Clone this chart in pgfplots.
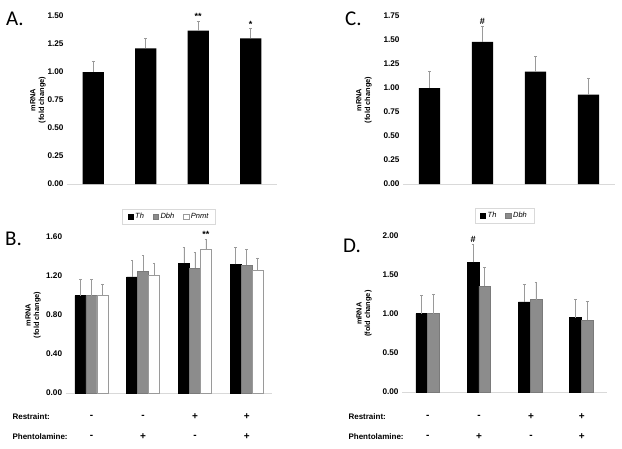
\documentclass[border=0pt]{standalone}
\usepackage{pgfplots}
\pgfplotsset{compat=1.18}
\usepackage{fontspec}
\setmainfont{Liberation Sans}
\newfontfamily\letterfont{Carlito}
\definecolor{bargray}{HTML}{8C8C8C}
\definecolor{baredge}{HTML}{7A7A7A}
\definecolor{errgray}{HTML}{9A9A9A}
\definecolor{axgray}{HTML}{D9D9D9}
\pgfplotsset{
  panel/.style={
    scale only axis, axis lines=left, axis line style={-},
    x axis line style={draw=axgray, line width=0.6pt},
    y axis line style={draw=none},
    xtick=\empty, major tick length=0pt,
    ymin=0, xmin=-0.5, xmax=3.5, clip=false,
    ybar, bar shift=0pt,
    yticklabel style={font=\fontsize{8.2}{9}\selectfont\bfseries,
      /pgf/number format/fixed, /pgf/number format/zerofill,
      /pgf/number format/precision=2, /pgf/number format/assume math mode=true},
    ylabel={mRNA\\(fold change)},
    ylabel style={font=\fontsize{7.4}{8.6}\selectfont\bfseries, align=center, anchor=center},
  },
  eb/.style={error bars/.cd, y dir=plus, y explicit,
    error bar style={color=errgray, line width=0.6pt},
    error mark options={rotate=90, mark size=1.3pt, color=errgray, line width=0.6pt}},
  sqlegend/.style={legend image code/.code={\draw[##1, line width=0.4pt] (0pt,-2.6pt) rectangle (5.2pt,2.6pt);}},
}
\tikzset{
  sig/.style={font=\fontsize{9}{9}\selectfont\bfseries, anchor=south, inner sep=1pt},
  pm/.style={font=\fontsize{10}{10}\selectfont\bfseries, anchor=center},
  rowlab/.style={font=\fontsize{8}{8}\selectfont\bfseries, anchor=west},
  letter/.style={anchor=base west, inner sep=0pt, font=\letterfont\fontsize{21}{21}\selectfont},
}
\begin{document}
\begin{tikzpicture}
\path[use as bounding box] (0pt,0pt) rectangle (622pt,-448pt);

% ---------- Panel A ----------
\begin{axis}[panel, at={(67pt,-184pt)}, anchor=south west,
  width=210pt, height=168pt, ymax=1.5, ytick={0,0.25,0.5,0.75,1,1.25,1.5},
  ylabel style={at={(axis description cs:-0.138,0.5)}}]
\addplot[bar width=21.4pt, fill=black, draw=none, eb]
  coordinates {(0,1.00) +- (0,0.10) (1,1.21) +- (0,0.09) (2,1.37) +- (0,0.085) (3,1.30) +- (0,0.09)};
\node[sig] at (axis cs:2,1.455) {**};
\node[sig] at (axis cs:3,1.39) {*};
\end{axis}

% ---------- Panel C ----------
\begin{axis}[panel, at={(403pt,-184pt)}, anchor=south west,
  width=212pt, height=168pt, ymax=1.75, ytick={0,0.25,0.5,0.75,1,1.25,1.5,1.75},
  ylabel style={at={(axis description cs:-0.184,0.5)}}]
\addplot[bar width=21.4pt, fill=black, draw=none, eb]
  coordinates {(0,1.00) +- (0,0.175) (1,1.48) +- (0,0.165) (2,1.17) +- (0,0.16) (3,0.93) +- (0,0.175)};
\node[sig] at (axis cs:1,1.646) {\#};
\end{axis}

% ---------- Panel B ----------
\begin{axis}[panel, sqlegend, at={(65.6pt,-393pt)}, anchor=south west,
  width=206.8pt, height=156pt, ymax=1.6, ytick={0,0.4,0.8,1.2,1.6},
  ylabel style={at={(axis description cs:-0.157,0.5)}},
  legend columns=3,
  legend style={at={(0.5,1)}, anchor=south, yshift=13pt, draw=axgray,
    font=\fontsize{7.5}{8}\selectfont\itshape, inner xsep=5pt, inner ysep=2pt,
    /tikz/every even column/.append style={column sep=7pt}}]
\addplot[bar width=11pt, fill=black, draw=black, eb]
  coordinates {(-0.2128,1.00) +- (0,0.17) (0.7872,1.19) +- (0,0.17) (1.7872,1.33) +- (0,0.16) (2.7872,1.32) +- (0,0.175)};
\addlegendentry{Th}
\addplot[bar width=11pt, fill=bargray, draw=baredge, eb]
  coordinates {(0,1.00) +- (0,0.165) (1,1.25) +- (0,0.16) (2,1.28) +- (0,0.16) (3,1.31) +- (0,0.165)};
\addlegendentry{Dbh}
\addplot[bar width=11pt, fill=white, draw=errgray, eb]
  coordinates {(0.2128,1.00) +- (0,0.12) (1.2128,1.205) +- (0,0.13) (2.2128,1.47) +- (0,0.11) (3.2128,1.26) +- (0,0.125)};
\addlegendentry{Pnmt}
\node[sig] at (axis cs:2.2128,1.58) {**};
\end{axis}

% ---------- Panel D ----------
\begin{axis}[panel, sqlegend, at={(402pt,-392pt)}, anchor=south west,
  width=205pt, height=156.7pt, ymax=2.0, ytick={0,0.5,1,1.5,2},
  ylabel style={at={(axis description cs:-0.185,0.5)}},
  legend columns=2,
  legend style={at={(0.5,1)}, anchor=south, yshift=12pt, draw=axgray,
    font=\fontsize{7.5}{8}\selectfont\itshape, inner xsep=5pt, inner ysep=2pt,
    /tikz/every even column/.append style={column sep=7pt}}]
\addplot[bar width=11.7pt, fill=black, draw=black, eb]
  coordinates {(-0.1141,1.00) +- (0,0.235) (0.8859,1.655) +- (0,0.235) (1.8859,1.15) +- (0,0.22) (2.8859,0.95) +- (0,0.235)};
\addlegendentry{Th}
\addplot[bar width=11.7pt, fill=bargray, draw=baredge, eb]
  coordinates {(0.1141,1.00) +- (0,0.245) (1.1141,1.35) +- (0,0.24) (2.1141,1.18) +- (0,0.225) (3.1141,0.915) +- (0,0.24)};
\addlegendentry{Dbh}
\node[sig] at (axis cs:0.8859,1.889) {\#};
\end{axis}

% ---------- Panel letters ----------
\node[letter] at (6pt,-25pt) {A.};
\node[letter] at (345pt,-25pt) {C.};
\node[letter] at (5pt,-245pt) {B.};
\node[letter] at (343pt,-252pt) {D.};

% ---------- Treatment rows ----------
\node[rowlab] at (9pt,-417pt) {Restraint:};
\node[rowlab] at (9pt,-437pt) {Phentolamine:};
\node[rowlab] at (345pt,-417pt) {Restraint:};
\node[rowlab] at (345pt,-437pt) {Phentolamine:};
\foreach \x/\a/\b in {91.5/-/-, 143/-/+, 195/+/-, 246.7/+/+} {
  \node[pm] at (\x pt,-417pt) {\a};
  \node[pm] at (\x pt,-437pt) {\b};
}
\foreach \x/\a/\b in {427.7/-/-, 479/-/+, 531/+/-, 581.7/+/+} {
  \node[pm] at (\x pt,-417pt) {\a};
  \node[pm] at (\x pt,-437pt) {\b};
}
\end{tikzpicture}
\end{document}
